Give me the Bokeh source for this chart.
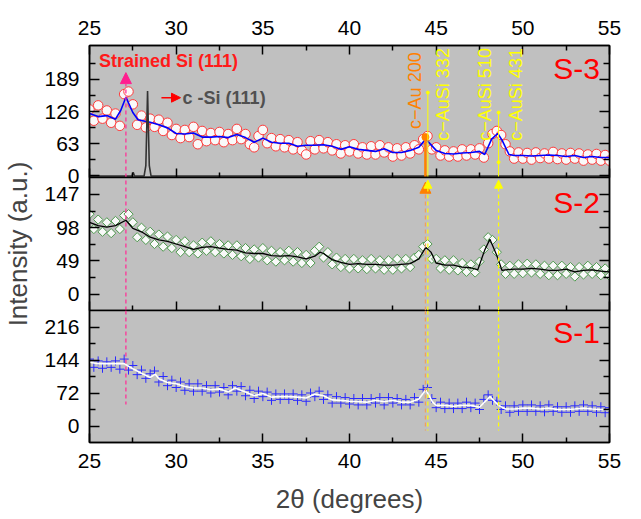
import numpy as np
from math import pi
from bokeh.plotting import figure
from bokeh.layouts import column
from bokeh.models import FixedTicker, Label, Range1d, LinearAxis, Arrow, NormalHead
from bokeh.embed import file_html
from bokeh.resources import INLINE

FONT = "Liberation Sans"

# ---------------- data ----------------
x_ticks = [25, 30, 35, 40, 45, 50, 55]
x_minor = [27.5, 32.5, 37.5, 42.5, 47.5, 52.5]

# scatter grid (0.25 deg steps)
x_pts = np.round(np.arange(25.0, 55.001, 0.25), 2)

# S-3 (High) raw points and smoothed line
s3_pts = [130,108,138,112,128,104,122,98,160,165, 140,100,118,95,112,96,110,88,104,80,
          92,74,90,76,96,62,88,68,84,70, 86,66,82,70,92,72,82,62,56,78,
          90,64,74,58,72,56,70,52,66,50, 42,68,52,70,54,66,50,62,44,60,
          48,62,44,56,42,58,42,60,46,56, 38,54,40,56,44,60,52,72,78,52,
          56,40,50,38,48,38,52,40,52,42, 54,36,64,82,88,80,62,48,34,46,
          34,45,32,46,35,44,34,47,33,44, 32,45,34,44,30,42,32,43,30,41, 30]
s3_line_x = [25, 25.5, 26, 26.5, 26.8, 27.1, 27.5, 27.8, 28.2, 28.5,
             29, 29.5, 30, 30.5, 31, 31.5, 32, 32.5, 33, 33.5, 34, 34.5, 35, 35.5, 36, 36.5, 37, 37.5, 38,
             38.5, 39, 39.5, 40, 40.5, 41, 41.5, 42, 42.5, 43, 43.5, 44, 44.4,
             45, 45.5, 46, 46.5, 47, 47.5, 47.8, 48.2, 48.55, 48.8, 49.2,
             49.5, 50, 50.5, 51, 51.5, 52, 52.5, 53, 53.5, 54, 54.5, 55]
s3_line_y = [122, 116, 118, 111, 128, 154, 124, 110, 107, 105,
             100, 94, 83, 82, 84, 76, 76, 77, 75, 81, 75, 66, 74, 66, 64, 64, 58, 60, 60,
             61, 58, 52, 57, 52, 50, 48, 53, 46, 46, 50, 56, 72,
             50, 44, 43, 45, 46, 48, 42, 72, 83, 70, 42,
             40, 40, 39, 40, 41, 40, 38, 40, 36, 38, 36, 36]
# c-Si reference pattern
csi_x = [25.0, 27.45, 27.52, 27.6, 28.15, 28.25, 28.30, 28.35, 28.40, 28.45, 28.55, 55.0]
csi_y = [0, 0, 7, 0, 0, 20, 90, 166, 90, 20, 0, 0]

# S-2 (Moderate)
s2_pts = [118,96,110,92,106,90,108,96,116,118, 106,84,98,80,92,74,88,70,85,68,
          80,62,78,62,72,60,76,64,78,62, 74,60,72,58,72,56,68,52,66,54,
          68,50,64,48,62,50,64,48,62,46, 58,46,64,70,54,62,44,54,40,52,
          38,52,38,50,37,52,38,50,36,50, 36,52,38,52,40,54,58,70,74,52,
          52,38,50,36,50,35,46,33,44,32, 48,66,84,80,62,44,30,42,30,44,
          31,45,32,44,30,42,28,42,28,42, 30,40,26,40,29,42,30,40,28,38, 27]
s2_line_x = [25, 25.5, 26, 26.5, 27.1, 27.5,
             28, 28.5, 29, 29.5, 30, 30.5, 31, 31.5, 32, 32.5, 33, 33.5, 34, 34.5, 35, 35.5, 36, 36.5, 37, 37.5, 38,
             38.3, 38.5, 39, 39.5, 40, 40.5, 41, 41.5, 42, 42.5, 43, 43.5, 44, 44.4, 44.7,
             45, 45.5, 46, 46.5, 47, 47.4, 47.8, 48.1, 48.5, 48.8, 49,
             49.5, 50, 50.5, 51, 51.5, 52, 52.5, 53, 53.5, 54, 54.5, 55]
s2_line_y = [106, 101, 99, 101, 109, 97,
             92, 84, 80, 78, 74, 70, 66, 69, 70, 68, 66, 65, 61, 60, 60, 57, 56, 57, 55, 52, 56,
             62, 60, 51, 47, 44, 45, 44, 44, 43, 43, 44, 45, 52, 69, 62,
             46, 43, 43, 40, 39, 36, 65, 81, 57, 35, 36,
             37, 37, 38, 37, 35, 35, 37, 33, 35, 36, 34, 33]

# S-1 (Low)
s1_pts = [146,128,142,126,140,128,142,124,146,122, 132,112,122,104,114,120,96,108,88,100,
          84,96,78,92,76,92,76,88,72,88, 74,84,68,88,76,86,66,78,60,76,
          64,74,56,70,58,70,58,70,56,68, 54,72,64,76,58,68,50,64,50,62,
          48,60,46,60,46,60,50,62,46,62, 50,60,46,58,46,62,52,80,84,60,
          40,52,38,50,38,50,38,52,40,50, 36,58,68,56,54,36,44,30,44,32,
          46,32,46,32,44,31,46,32,42,30, 42,30,44,32,46,32,44,30,42,29, 40]
s1_line_x = [25, 25.5, 26, 26.5, 27, 27.5, 28, 28.5, 28.8,
             29, 29.5, 30, 30.5, 31, 31.5, 32, 32.5, 33, 33.4,
             34, 34.5, 35, 35.5, 36, 36.5, 37, 37.5, 38, 38.5, 39, 39.5, 40, 40.5, 41, 41.5, 42, 42.5, 43, 43.5, 44,
             44.4, 44.8, 45, 45.5, 46, 46.5, 47, 47.5, 48.1, 48.6,
             49, 49.5, 50, 50.5, 51, 51.5, 52, 52.5, 53, 53.5, 54, 54.5, 55]
s1_line_y = [139, 136, 136, 136, 136, 125, 115, 106, 113,
             103, 95, 92, 86, 83, 83, 79, 81, 74, 83,
             74, 66, 71, 63, 64, 64, 63, 61, 70, 66, 57, 56, 54, 53, 52, 56, 53, 56, 52, 52, 59,
             79, 52, 45, 45, 43, 45, 45, 41, 64, 45,
             37, 37, 39, 39, 37, 39, 36, 36, 37, 39, 37, 36, 35]

# reflection positions (2-theta)
x_strained = 27.1
x_au200 = 44.38
x_ausi332 = 44.52
x_ausi431 = 48.6

BG = "#c0c0c0"
MAGENTA = "#ff3399"
ORANGE = "#ff8000"
YELLOW = "#ffff00"
TICK_FS = "21px"
AXIS_FS = "26px"


def style_axis(ax, labels, major, minor, standoff=11):
    ax.axis_line_width = 1.5
    ax.axis_line_color = "black"
    ax.major_tick_in = major
    ax.major_tick_out = 0
    ax.minor_tick_in = minor
    ax.minor_tick_out = 0
    ax.major_tick_line_width = 1.5
    ax.minor_tick_line_width = 1.5
    ax.major_tick_line_color = "black"
    ax.minor_tick_line_color = "black"
    if labels:
        ax.major_label_text_font = FONT
        ax.major_label_text_font_size = TICK_FS
        ax.major_label_text_color = "black"
        ax.major_label_standoff = standoff
    else:
        ax.major_label_text_font_size = "0px"
        ax.major_label_text_alpha = 0
        ax.major_label_standoff = 0


def make_fig(yr, yt, ym, fh, top, bottom, top_axis=False, bottom_labels=False):
    p = figure(x_range=Range1d(25, 55), y_range=Range1d(*yr),
               frame_width=520, frame_height=fh,
               min_border_left=88, min_border_right=33,
               min_border_top=top, min_border_bottom=bottom,
               output_backend="svg", toolbar_location=None,
               background_fill_color=BG, border_fill_color="white",
               outline_line_color="black", outline_line_width=1.5)
    p.grid.visible = False
    p.xaxis[0].ticker = FixedTicker(ticks=x_ticks, minor_ticks=x_minor)
    style_axis(p.xaxis[0], bottom_labels, 9, 5)
    p.yaxis[0].ticker = FixedTicker(ticks=yt, minor_ticks=ym)
    style_axis(p.yaxis[0], True, 10, 6, standoff=10)
    r = LinearAxis(ticker=FixedTicker(ticks=yt, minor_ticks=ym))
    style_axis(r, False, 10, 6)
    p.add_layout(r, "right")
    if top_axis:
        a = LinearAxis(ticker=FixedTicker(ticks=x_ticks, minor_ticks=x_minor))
        style_axis(a, True, 9, 5)
        p.add_layout(a, "above")
    return p


def add_text(p, x, y, text, size, color, align="left", angle=0, bold=False, xoff=0):
    p.add_layout(Label(x=x, y=y, text=text, text_font=FONT, text_font_size=size,
                       text_color=color, text_align=align, text_baseline="middle",
                       angle=angle, x_offset=xoff,
                       text_font_style="bold" if bold else "normal"))


# ---------------- panel 1 : S-3 ----------------
p1 = make_fig((-3, 255), [0, 63, 126, 189], [31.5, 94.5, 157.5, 220.5], 132, 45, 12, top_axis=True)
p1.scatter(x_pts, s3_pts, marker="circle", size=9.5, fill_color="white", line_color="#ff3b3b",
           line_width=1, fill_alpha=0.9)
p1.line(s3_line_x, s3_line_y, line_color="#0000ff", line_width=1.6)
p1.line(csi_x, csi_y, line_color="#333333", line_width=1.6)
p1.add_layout(Arrow(x_start=x_strained, y_start=-3, x_end=x_strained, y_end=202,
                    line_color=MAGENTA, line_width=1.3, line_dash="4 3",
                    end=NormalHead(size=11, fill_color="#ff1f8f", line_color="#ff1f8f")))
p1.segment([x_au200], [-3], [x_au200], [76], line_color=ORANGE, line_width=2.5)
p1.scatter([x_au200], [76], marker="circle", size=7, fill_color=ORANGE, line_color=ORANGE)
p1.segment([x_ausi332, x_ausi431], [-3, -3], [x_ausi332, x_ausi431], [163, 124],
           line_color=YELLOW, line_width=1)
p1.scatter([x_ausi332, x_ausi431, x_ausi431], [163, 124, 27], marker="circle", size=3,
           fill_color=YELLOW, line_color=YELLOW)
p1.add_layout(Arrow(x_start=29.15, y_start=153, x_end=30.25, y_end=153,
                    line_color="#ff0000", line_width=1.5,
                    end=NormalHead(size=9, fill_color="#ff0000", line_color="#ff0000")))
add_text(p1, 25.55, 224, "Strained Si (111)", "18px", "#ff1a1a", bold=True)
add_text(p1, 30.37, 153, "c -Si (111)", "18px", "#505050", bold=True)
add_text(p1, 43.75, 92, "c\u2212Au 200", "18px", ORANGE, angle=pi / 2)
add_text(p1, 45.42, 69, "c\u2212AuSi 332", "18px", YELLOW, angle=pi / 2)
add_text(p1, 47.79, 69, "c\u2212AuSi 510", "18px", YELLOW, angle=pi / 2)
add_text(p1, 49.63, 69, "c\u2212AuSi 431", "18px", YELLOW, angle=pi / 2)
add_text(p1, 54.45, 210, "S-3", "30px", "#ff0000", align="right")
add_text(p1, 55, 126, "High", "25px", "black", align="center", angle=pi / 2, xoff=17)

# ---------------- panel 2 : S-2 ----------------
# transparent top/bottom borders let this canvas overlap its neighbours so the
# long axis label is not clipped
p2 = make_fig((-24, 172), [0, 49, 98, 147], [24.5, 73.5, 122.5], 133, 20, 20)
p2.border_fill_alpha = 0
p2.margin = (-32, 0, 0, 0)
p2.yaxis[0].axis_label = "Intensity (a.u.)"
p2.yaxis[0].axis_label_text_font = FONT
p2.yaxis[0].axis_label_text_font_size = AXIS_FS
p2.yaxis[0].axis_label_text_font_style = "normal"
p2.yaxis[0].axis_label_standoff = 8
p2.scatter(x_pts, s2_pts, marker="square", angle=pi / 4, size=6.5, fill_color="white",
           line_color="#4e9a4e", line_width=1, fill_alpha=0.9)
p2.line(s2_line_x, s2_line_y, line_color="black", line_width=1.3)
p2.segment([x_strained], [-24], [x_strained], [172], line_color=MAGENTA, line_width=1.3,
           line_dash="4 3")
p2.add_layout(Arrow(x_start=x_au200, y_start=-24, x_end=x_au200, y_end=165,
                    line_color="#f0a060", line_width=1.3, line_dash="4 3",
                    end=NormalHead(size=11, fill_color=ORANGE, line_color=ORANGE)))
for xx in (x_ausi332, x_ausi431):
    p2.add_layout(Arrow(x_start=xx, y_start=-24, x_end=xx, y_end=168,
                        line_color=YELLOW, line_width=1.2, line_dash="4 3",
                        end=NormalHead(size=8, fill_color=YELLOW, line_color=YELLOW)))
add_text(p2, 54.45, 135, "S-2", "30px", "#ff0000", align="right")
add_text(p2, 55, 74, "Moderate", "25px", "black", align="center", angle=pi / 2, xoff=17)

# ---------------- panel 3 : S-1 ----------------
p3 = make_fig((-36, 252), [0, 72, 144, 216], [36, 108, 180], 132, 0, 77, bottom_labels=True)
p3.border_fill_alpha = 0
p3.margin = (-20, 0, 0, 0)
p3.xaxis[0].axis_label = "2\u03b8 (degrees)"
p3.xaxis[0].axis_label_text_font = FONT
p3.xaxis[0].axis_label_text_font_size = AXIS_FS
p3.xaxis[0].axis_label_text_font_style = "normal"
p3.xaxis[0].axis_label_standoff = 13
p3.scatter(x_pts, s1_pts, marker="cross", size=9, line_color="#2a2aff", line_width=1)
p3.line(s1_line_x, s1_line_y, line_color="white", line_width=1.6)
p3.segment([x_strained], [252], [x_strained], [47], line_color=MAGENTA, line_width=1.3,
           line_dash="4 3")
p3.segment([x_au200], [252], [x_au200], [-10], line_color="#f0a060", line_width=1.3,
           line_dash="4 3")
p3.segment([x_ausi332, x_ausi431], [252, 252], [x_ausi332, x_ausi431], [-10, -10],
           line_color=YELLOW, line_width=1.2, line_dash="4 3")
add_text(p3, 54.45, 204, "S-1", "30px", "#ff0000", align="right")
add_text(p3, 55, 108, "Low", "25px", "black", align="center", angle=pi / 2, xoff=17)

layout = column(p1, p2, p3, spacing=0)
open("out.html", "w").write(file_html(layout, INLINE))
